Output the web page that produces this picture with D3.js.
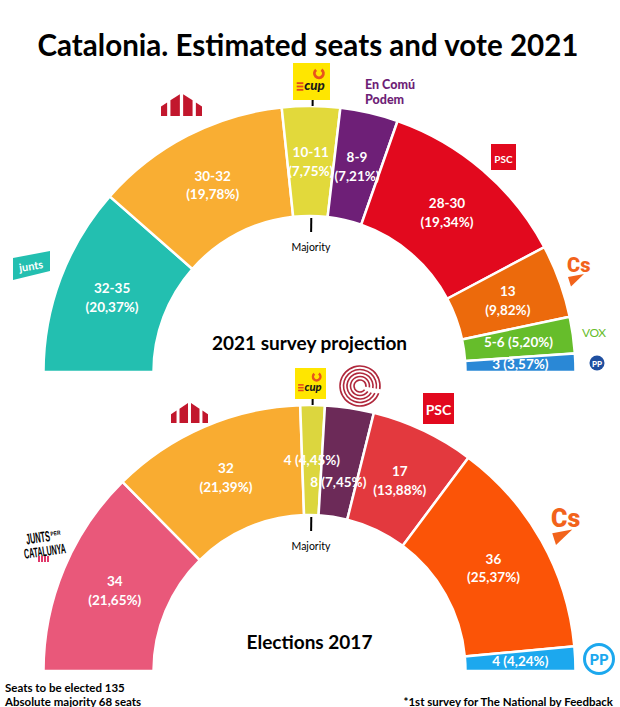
<!DOCTYPE html>
<html>
<head>
<meta charset="utf-8">
<script src="https://cdn.jsdelivr.net/npm/d3@7"></script>
<style>
  html, body { margin: 0; padding: 0; background: #fff; }
  svg { display: block; font-family: Lato, "Open Sans", sans-serif; }
</style>
</head>
<body>
<svg id="chart" width="620" height="707"></svg>
<script>
// --- data ---
var parties2021 = ["Junts", "ERC", "CUP", "En Comú Podem", "PSC", "Cs", "VOX", "PP"];
var seats2021   = ["32-35", "30-32", "10-11", "8-9", "28-30", "13", "5-6", "3"];
var votes2021   = ["20,37%", "19,78%", "7,75%", "7,21%", "19,34%", "9,82%", "5,20%", "3,57%"];
// width of each arc in the picture, in seats out of 135
var arcs2021    = [31, 32, 9.5, 9.5, 32, 12, 6, 3];
var colors2021  = ["#23bfb0", "#f9ae33", "#e2d93b", "#6e1f77", "#e2091e", "#ec6a0c", "#66bd2b", "#2a88d6"];

var parties2017 = ["JxCat", "ERC", "CUP", "Comú", "PSC", "Cs", "PP"];
var seats2017   = ["34", "32", "4", "8", "17", "36", "4"];
var votes2017   = ["21,65%", "21,39%", "4,45%", "7,45%", "13,88%", "25,37%", "4,24%"];
var arcs2017    = [34, 32, 4, 8, 17, 36, 4];
var colors2017  = ["#e9587a", "#f9ac31", "#dcd63e", "#6c2a58", "#e3393e", "#fb5407", "#1ca8ee"];

var totalSeats = 135;
var majority = 68;

var svg = d3.select("#chart");
var cx = 309.5, rIn = 156, rOut = 266;

svg.append("text")
    .attr("x", 308).attr("y", 56)
    .attr("text-anchor", "middle")
    .attr("font-size", 30).attr("font-weight", 700)
    .attr("textLength", 541).attr("lengthAdjust", "spacingAndGlyphs")
    .text("Catalonia. Estimated seats and vote 2021");

function drawHemicycle(cy, arcs, seats, votes, colors, title, labelShift) {
    var g = svg.append("g").attr("transform", "translate(" + cx + "," + cy + ")");
    var rows = arcs.map(function (a, i) {
        return { arc: a, seats: seats[i], vote: votes[i], color: colors[i] };
    });

    var pie = d3.pie().sort(null).value(function (d) { return d.arc; })
        .startAngle(-Math.PI / 2).endAngle(Math.PI / 2);
    var arc = d3.arc().innerRadius(rIn).outerRadius(rOut);
    var slices = pie(rows);

    g.selectAll("path.seg").data(slices).enter().append("path")
        .attr("class", "seg")
        .attr("d", arc)
        .attr("fill", function (d) { return d.data.color; })
        .attr("stroke", "#fff").attr("stroke-width", 2.5);

    // majority marker
    var angle = d3.scaleLinear().domain([0, totalSeats]).range([-Math.PI / 2, Math.PI / 2]);
    var m = angle(majority);
    [[rOut, rOut + 7], [rIn - 2, rIn - 16]].forEach(function (r) {
        g.append("line")
            .attr("x1", r[0] * Math.sin(m)).attr("y1", -r[0] * Math.cos(m))
            .attr("x2", r[1] * Math.sin(m)).attr("y2", -r[1] * Math.cos(m))
            .attr("stroke", "#000").attr("stroke-width", 2);
    });
    g.append("text")
        .attr("x", (rIn - 30) * Math.sin(m)).attr("y", -(rIn - 35))
        .attr("text-anchor", "middle").attr("font-size", 10.5)
        .text("Majority");

    // labels
    var lab = g.selectAll("text.lab").data(slices).enter().append("text")
        .attr("class", "lab")
        .attr("text-anchor", "middle")
        .attr("fill", "#fff").attr("font-size", 13.5).attr("font-weight", 700)
        .attr("transform", function (d, i) {
            var c = arc.centroid(d);
            var s = (labelShift[i] || 0);
            var k = (Math.hypot(c[0], c[1]) + s) / Math.hypot(c[0], c[1]);
            return "translate(" + c[0] * k + "," + c[1] * k + ")";
        });
    lab.each(function (d) {
        var t = d3.select(this);
        if (d.data.arc < 9) {
            t.append("tspan").attr("x", 0).attr("dy", "0.35em")
                .text(d.data.seats + " (" + d.data.vote + ")");
        } else {
            t.append("tspan").attr("x", 0).attr("dy", "-0.3em").text(d.data.seats);
            t.append("tspan").attr("x", 0).attr("dy", "1.4em").text("(" + d.data.vote + ")");
        }
    });

    g.append("text")
        .attr("x", 0).attr("y", -22)
        .attr("text-anchor", "middle")
        .attr("font-size", 19).attr("font-weight", 700)
        .text(title);
}

drawHemicycle(372, arcs2021, seats2021, votes2021, colors2021, "2021 survey projection", {});
drawHemicycle(671, arcs2017, seats2017, votes2017, colors2017, "Elections 2017", { 3: -20 });

// --- party logos (rough drawings) ---
function ercLogo(x, y, w, h) {
    var strips = [[0, 0.15], [0.23, 0.46], [0.54, 0.77], [0.85, 1]];
    var roof = function (f) { return y + h * 0.05 + Math.abs(f - 0.5) * 2 * h * 0.55; };
    strips.forEach(function (s) {
        var x0 = x + s[0] * w, x1 = x + s[1] * w;
        svg.append("polygon")
            .attr("points", [[x0, y + h], [x0, roof(s[0])], [x1, roof(s[1])], [x1, y + h]].join(" "))
            .attr("fill", "#c2172d");
    });
}

function cupLogo(x, y, s) {
    svg.append("rect").attr("x", x).attr("y", y).attr("width", s).attr("height", s).attr("fill", "#ffe600");
    svg.append("path")
        .attr("d", d3.arc().innerRadius(s * 0.08).outerRadius(s * 0.16).startAngle(0.6).endAngle(5.6)())
        .attr("transform", "translate(" + (x + s * 0.7) + "," + (y + s * 0.28) + ")")
        .attr("fill", "#e8541c");
    for (var i = 0; i < 3; i++) {
        svg.append("rect").attr("x", x + s * 0.1).attr("y", y + s * (0.52 + i * 0.09))
            .attr("width", s * 0.18).attr("height", s * 0.05).attr("fill", "#e34a1a");
    }
    svg.append("text").attr("x", x + s * 0.58).attr("y", y + s * 0.74)
        .attr("text-anchor", "middle").attr("font-size", s * 0.36)
        .attr("font-weight", 900).attr("font-style", "italic").attr("fill", "#1a1a1a")
        .text("cup");
}

function pscLogo(x, y, w, h, fs) {
    svg.append("rect").attr("x", x).attr("y", y).attr("width", w).attr("height", h).attr("fill", "#e2091e");
    svg.append("text").attr("x", x + w / 2).attr("y", y + h * 0.72)
        .attr("text-anchor", "middle").attr("font-size", fs).attr("font-weight", 700)
        .attr("fill", "#fff").text("PSC");
}

function csLogo(x, y, fs) {
    svg.append("text").attr("x", x).attr("y", y)
        .attr("font-size", fs).attr("font-weight", 900).attr("fill", "#f2631b")
        .attr("font-family", "Roboto, sans-serif").text("Cs");
    var t = fs * 0.05;
    svg.append("polygon")
        .attr("points", [[x + t, y + fs * 0.25], [x + fs * 0.85, y + fs * 0.1], [x + fs * 0.2, y + fs * 0.72]].join(" "))
        .attr("fill", "#f2631b");
}

// 2021 logos
svg.append("polygon").attr("points", "13,258 50,251 50,271 13,280").attr("fill", "#23bfb0");
svg.append("text").attr("x", 31).attr("y", 270).attr("text-anchor", "middle")
    .attr("font-size", 11).attr("font-weight", 700).attr("fill", "#fff")
    .attr("transform", "rotate(-9,31,266)").text("junts");
ercLogo(161, 92, 41, 24);
cupLogo(293, 63, 37);
var comu = svg.append("text").attr("font-size", 12.5).attr("font-weight", 900).attr("fill", "#6e1f77");
comu.append("tspan").attr("x", 365).attr("y", 89).text("En Comú");
comu.append("tspan").attr("x", 365).attr("y", 104).text("Podem");
pscLogo(491, 144, 25, 26, 10);
csLogo(567, 272, 20);
svg.append("text").attr("x", 582).attr("y", 337).attr("font-size", 12)
    .attr("fill", "#66bd2b").attr("letter-spacing", -0.5).text("VOX");
svg.append("circle").attr("cx", 597).attr("cy", 363).attr("r", 7.5).attr("fill", "#1f4fa0");
svg.append("text").attr("x", 597).attr("y", 366.5).attr("text-anchor", "middle")
    .attr("font-size", 8).attr("font-weight", 900).attr("fill", "#fff").text("PP");

// 2017 logos
var jx = svg.append("g").attr("transform", "rotate(-8,44,545)")
    .attr("font-family", "'Liberation Sans Narrow', sans-serif").attr("font-weight", 700);
jx.append("text").attr("x", 27).attr("y", 542).attr("font-size", 15)
    .attr("textLength", 24).attr("lengthAdjust", "spacingAndGlyphs").text("JUNTS");
jx.append("text").attr("x", 52).attr("y", 537).attr("font-size", 6)
    .attr("textLength", 10).attr("lengthAdjust", "spacingAndGlyphs").text("PER");
jx.append("text").attr("x", 23).attr("y", 556).attr("font-size", 14)
    .attr("textLength", 42).attr("lengthAdjust", "spacingAndGlyphs").text("CATALUNYA");
for (var i = 0; i < 4; i++) {
    svg.append("rect").attr("x", 38 + i * 3).attr("y", 556).attr("width", 2).attr("height", 6).attr("fill", "#e0386a");
}
ercLogo(171, 401, 37, 22);
cupLogo(295, 368, 31);
[6, 9.5, 13, 16.5, 20].forEach(function (r, i) {
    svg.append("path")
        .attr("d", d3.arc().innerRadius(r - 0.8).outerRadius(r + 0.8)
            .startAngle(Math.PI * 0.72 - i * 0.08).endAngle(Math.PI * 2.55)())
        .attr("transform", "translate(360,386)")
        .attr("fill", "#b0283c");
});
pscLogo(423, 393, 31, 31, 14);
csLogo(551, 527, 25);
svg.append("circle").attr("cx", 599).attr("cy", 659).attr("r", 14.5)
    .attr("fill", "none").attr("stroke", "#1ca8ee").attr("stroke-width", 3);
svg.append("text").attr("x", 599).attr("y", 665).attr("text-anchor", "middle")
    .attr("font-size", 15).attr("font-weight", 900).attr("fill", "#1ca8ee").text("PP");

// footer
svg.append("text").attr("x", 5).attr("y", 692).attr("font-size", 11.5).attr("font-weight", 700)
    .text("Seats to be elected 135");
svg.append("text").attr("x", 5).attr("y", 706).attr("font-size", 11.5).attr("font-weight", 700)
    .text("Absolute majority 68 seats");
svg.append("text").attr("x", 613).attr("y", 706).attr("text-anchor", "end")
    .attr("font-size", 11.5).attr("font-weight", 700)
    .text("*1st survey for The National by Feedback");
</script>
</body>
</html>
